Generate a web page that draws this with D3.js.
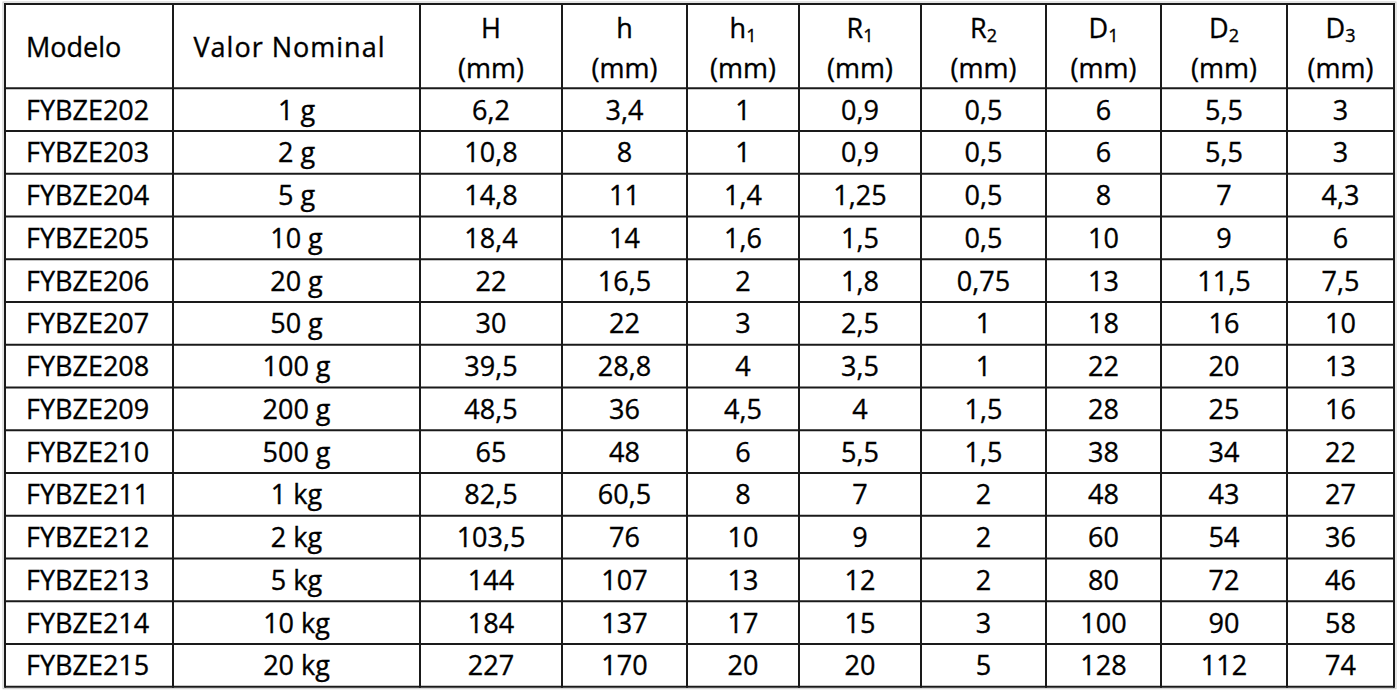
<!DOCTYPE html>
<html>
<head>
<meta charset="utf-8">
<script src="https://cdn.jsdelivr.net/npm/d3@7"></script>
<style>
  body { margin: 0; background: #fff; }
  svg text { font-family: "Open Sans", "Noto Sans", sans-serif; fill: #000; stroke: #000; stroke-width: 0.35px; }
</style>
</head>
<body>
<div id="chart"></div>
<script>
// table data
var models = ["FYBZE202","FYBZE203","FYBZE204","FYBZE205","FYBZE206","FYBZE207","FYBZE208",
	"FYBZE209","FYBZE210","FYBZE211","FYBZE212","FYBZE213","FYBZE214","FYBZE215"];
var nominal = ["1 g","2 g","5 g","10 g","20 g","50 g","100 g","200 g","500 g","1 kg","2 kg","5 kg","10 kg","20 kg"];
var H  = [6.2, 10.8, 14.8, 18.4, 22, 30, 39.5, 48.5, 65, 82.5, 103.5, 144, 184, 227];
var h  = [3.4, 8, 11, 14, 16.5, 22, 28.8, 36, 48, 60.5, 76, 107, 137, 170];
var h1 = [1, 1, 1.4, 1.6, 2, 3, 4, 4.5, 6, 8, 10, 13, 17, 20];
var R1 = [0.9, 0.9, 1.25, 1.5, 1.8, 2.5, 3.5, 4, 5.5, 7, 9, 12, 15, 20];
var R2 = [0.5, 0.5, 0.5, 0.5, 0.75, 1, 1, 1.5, 1.5, 2, 2, 2, 3, 5];
var D1 = [6, 6, 8, 10, 13, 18, 22, 28, 38, 48, 60, 80, 100, 128];
var D2 = [5.5, 5.5, 7, 9, 11.5, 16, 20, 25, 34, 43, 54, 72, 90, 112];
var D3 = [3, 3, 4.3, 6, 7.5, 10, 13, 16, 22, 27, 36, 46, 58, 74];

// header: [main, subscript]
var headers = [["Modelo",""],["Valor Nominal",""],["H",""],["h",""],["h","1"],["R","1"],["R","2"],["D","1"],["D","2"],["D","3"]];
var numCols = [H, h, h1, R1, R2, D1, D2, D3];

//
// layout
//
var _width = 1400, _height = 693;
var colEdges = [5, 173, 420, 562, 687, 799, 921, 1046, 1161, 1287, 1394];
var tableTop = 4, headBottom = 88.3, tableBottom = 686.7;

var pt = d3.formatLocale({decimal: ",", thousands: "."}).format("~g");

var svg = d3.select("#chart").append("svg")
	.attr("width", _width)
	.attr("height", _height);

var y = d3.scaleBand()
	.domain(models)
	.range([headBottom, tableBottom]);

// build rows of cell text
var rows = models.map(function(m, i) {
	return [m, nominal[i]].concat(numCols.map(function(c) { return pt(c[i]); }));
});

// outer light shadow border
svg.append("rect")
	.attr("x", colEdges[0] - 2)
	.attr("y", tableTop - 2)
	.attr("width", colEdges[10] - colEdges[0] + 4)
	.attr("height", tableBottom - tableTop + 4)
	.attr("fill", "none")
	.attr("stroke", "#c8c8c8")
	.attr("stroke-width", 1);

// header text
var head = svg.append("g").attr("class", "head");
headers.forEach(function(hd, j) {
	var cx = (colEdges[j] + colEdges[j+1]) / 2;
	if (j < 2) {
		head.append("text")
			.attr("x", j === 0 ? colEdges[j] + 21 : cx - 7)
			.attr("y", 57)
			.attr("text-anchor", j === 0 ? "start" : "middle")
			.attr("font-size", 27)
			.attr("letter-spacing", j === 1 ? 1 : 0)
			.text(hd[0]);
	} else {
		var t = head.append("text")
			.attr("x", cx)
			.attr("y", 38)
			.attr("text-anchor", "middle")
			.attr("font-size", 27);
		t.append("tspan").text(hd[0]);
		if (hd[1]) {
			t.append("tspan")
				.attr("font-size", 18)
				.attr("dy", 4)
				.text(hd[1]);
		}
		head.append("text")
			.attr("x", cx)
			.attr("y", 77.5)
			.attr("text-anchor", "middle")
			.attr("font-size", 27)
			.text("(mm)");
	}
});

// body text
var body = svg.selectAll("g.row")
	.data(rows)
	.enter()
	.append("g")
	.attr("class", "row")
	.attr("transform", function(d, i) { return "translate(0," + (y(models[i]) + y.bandwidth() / 2 + 10) + ")"; });

body.selectAll("text")
	.data(function(d) { return d; })
	.enter()
	.append("text")
	.attr("x", function(d, j) { return j === 0 ? colEdges[0] + 21 : (colEdges[j] + colEdges[j+1]) / 2; })
	.attr("text-anchor", function(d, j) { return j === 0 ? "start" : "middle"; })
	.attr("font-size", 27)
	.text(function(d) { return d; });

// grid lines
var grid = svg.append("g")
	.attr("stroke", "#1a1a1a")
	.attr("stroke-width", 2);

var hLines = [tableTop, headBottom].concat(models.map(function(m) { return y(m) + y.bandwidth(); }));
grid.selectAll("line.h")
	.data(hLines)
	.enter()
	.append("line")
	.attr("class", "h")
	.attr("x1", colEdges[0])
	.attr("x2", colEdges[10])
	.attr("y1", function(d) { return d; })
	.attr("y2", function(d) { return d; });

grid.selectAll("line.v")
	.data(colEdges)
	.enter()
	.append("line")
	.attr("class", "v")
	.attr("x1", function(d) { return d; })
	.attr("x2", function(d) { return d; })
	.attr("y1", tableTop - 1)
	.attr("y2", tableBottom + 1);
</script>
</body>
</html>
